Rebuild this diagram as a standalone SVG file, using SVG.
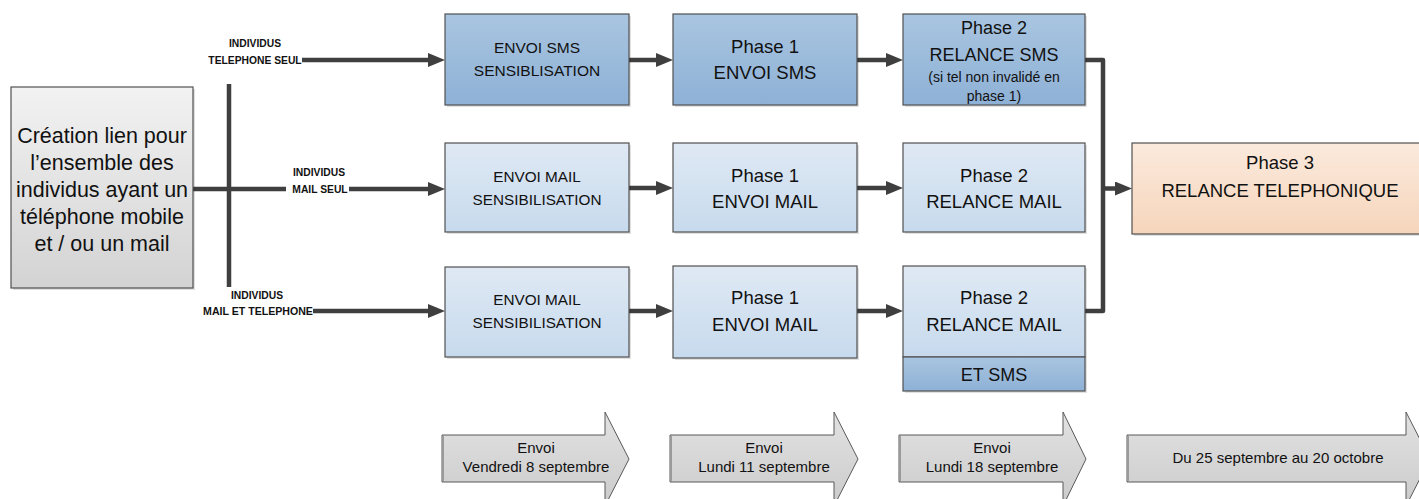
<svg xmlns="http://www.w3.org/2000/svg" width="1419" height="499" viewBox="0 0 1419 499">
<defs>
<linearGradient id="gDark" x1="0" y1="0" x2="0" y2="1"><stop offset="0" stop-color="#a9c5e0"/><stop offset="1" stop-color="#8eb1d6"/></linearGradient>
<linearGradient id="gLight" x1="0" y1="0" x2="0" y2="1"><stop offset="0" stop-color="#dfe9f4"/><stop offset="1" stop-color="#c7daed"/></linearGradient>
<linearGradient id="gPeach" x1="0" y1="0" x2="0" y2="1"><stop offset="0" stop-color="#fbeadd"/><stop offset="1" stop-color="#f6d5bb"/></linearGradient>
<linearGradient id="gGray" x1="0" y1="0" x2="0" y2="1"><stop offset="0" stop-color="#f2f2f2"/><stop offset="1" stop-color="#d3d3d3"/></linearGradient>
<linearGradient id="gArrow" x1="0" y1="0" x2="0" y2="1"><stop offset="0" stop-color="#e2e2e2"/><stop offset="1" stop-color="#cbcbcb"/></linearGradient>
<marker id="ah" markerUnits="userSpaceOnUse" markerWidth="18" markerHeight="16" refX="7" refY="7" orient="auto"><path d="M0,0 L17,7 L0,14 z" fill="#3f3f3f"/></marker>
<style>
.box{stroke:#505050;stroke-width:1.2}
.sh{fill:#000;opacity:0.12}
.dark{fill:url(#gDark)}
.light{fill:url(#gLight)}
.t{font-family:"Liberation Sans",Arial,sans-serif;fill:#111;text-anchor:middle}
.lbl{font-family:"Liberation Sans",Arial,sans-serif;font-weight:bold;font-size:10.3px;fill:#111;text-anchor:middle}
.c{fill:none;stroke:#3f3f3f;stroke-width:4.5;stroke-linejoin:round}
.arr{fill:url(#gArrow);stroke:#595959;stroke-width:1}
</style>
</defs>
<rect width="1419" height="499" fill="#ffffff"/>

<g id="connectors">
<line class="c" x1="229" y1="84" x2="229" y2="287"/>
<line class="c" x1="302" y1="60" x2="435" y2="60" marker-end="url(#ah)"/>
<line class="c" x1="193" y1="189" x2="286" y2="189"/>
<line class="c" x1="349" y1="189" x2="435" y2="189" marker-end="url(#ah)"/>
<line class="c" x1="313" y1="311" x2="435" y2="311" marker-end="url(#ah)"/>
<line class="c" x1="629" y1="60" x2="663" y2="60" marker-end="url(#ah)"/>
<line class="c" x1="857" y1="60" x2="893" y2="60" marker-end="url(#ah)"/>
<line class="c" x1="629" y1="188" x2="663" y2="188" marker-end="url(#ah)"/>
<line class="c" x1="857" y1="188" x2="893" y2="188" marker-end="url(#ah)"/>
<line class="c" x1="629" y1="311" x2="663" y2="311" marker-end="url(#ah)"/>
<line class="c" x1="857" y1="311" x2="893" y2="311" marker-end="url(#ah)"/>
<path class="c" d="M1085,60 H1103 V311 H1085"/>
<line class="c" x1="1103" y1="188.5" x2="1122" y2="188.5" marker-end="url(#ah)"/>
</g>

<g id="labels">
<text class="lbl" x="255" y="47">INDIVIDUS</text>
<text class="lbl" x="255" y="64">TELEPHONE SEUL</text>
<text class="lbl" x="319" y="176">INDIVIDUS</text>
<text class="lbl" x="320" y="193">MAIL SEUL</text>
<text class="lbl" x="257" y="299">INDIVIDUS</text>
<text class="lbl" x="258" y="315" style="font-size:10.6px">MAIL ET TELEPHONE</text>
</g>

<g id="node-creation">
<rect class="sh" x="13" y="89" width="182" height="201"/>
<rect class="box" x="11" y="87" width="182" height="201" fill="url(#gGray)"/>
<text class="t" style="font-size:21.5px" x="102" y="143">Création lien pour</text>
<text class="t" style="font-size:21.5px" x="102" y="170">l’ensemble des</text>
<text class="t" style="font-size:21.5px" x="102" y="197">individus ayant un</text>
<text class="t" style="font-size:21.5px" x="102" y="224">téléphone mobile</text>
<text class="t" style="font-size:21.5px" x="102" y="251">et / ou un mail</text>
</g>

<g id="node-sms-sensib">
<rect class="sh" x="447" y="16" width="184" height="91"/>
<rect class="box dark" x="445" y="14" width="184" height="91"/>
<text class="t" style="font-size:15.5px" x="537" y="53">ENVOI SMS</text>
<text class="t" style="font-size:15.5px" x="537" y="76">SENSIBLISATION</text>
</g>
<g id="node-p1-sms">
<rect class="sh" x="675" y="16" width="184" height="91"/>
<rect class="box dark" x="673" y="14" width="184" height="91"/>
<text class="t" style="font-size:18.5px" x="765" y="53">Phase 1</text>
<text class="t" style="font-size:18.5px" x="765" y="79">ENVOI SMS</text>
</g>
<g id="node-p2-sms">
<rect class="sh" x="905" y="16" width="182" height="91"/>
<rect class="box dark" x="903" y="14" width="182" height="91"/>
<text class="t" style="font-size:18px" x="994" y="34">Phase 2</text>
<text class="t" style="font-size:18px" x="994" y="61">RELANCE SMS</text>
<text class="t" style="font-size:14px" x="994" y="82">(si tel non invalidé en</text>
<text class="t" style="font-size:14px" x="994" y="101">phase 1)</text>
</g>

<g id="node-mail-sensib">
<rect class="sh" x="447" y="145" width="184" height="89"/>
<rect class="box light" x="445" y="143" width="184" height="89"/>
<text class="t" style="font-size:15.3px" x="537" y="182">ENVOI MAIL</text>
<text class="t" style="font-size:15.3px" x="537" y="205">SENSIBILISATION</text>
</g>
<g id="node-p1-mail">
<rect class="sh" x="675" y="145" width="184" height="89"/>
<rect class="box light" x="673" y="143" width="184" height="89"/>
<text class="t" style="font-size:18.5px" x="765" y="182">Phase 1</text>
<text class="t" style="font-size:18.5px" x="765" y="208">ENVOI MAIL</text>
</g>
<g id="node-p2-mail">
<rect class="sh" x="905" y="145" width="182" height="89"/>
<rect class="box light" x="903" y="143" width="182" height="89"/>
<text class="t" style="font-size:18.5px" x="994" y="182">Phase 2</text>
<text class="t" style="font-size:18.5px" x="994" y="208">RELANCE MAIL</text>
</g>

<g id="node-mail-tel-sensib">
<rect class="sh" x="447" y="269" width="184" height="90"/>
<rect class="box light" x="445" y="267" width="184" height="90"/>
<text class="t" style="font-size:15.3px" x="537" y="305">ENVOI MAIL</text>
<text class="t" style="font-size:15.3px" x="537" y="328">SENSIBILISATION</text>
</g>
<g id="node-p1-mail-tel">
<rect class="sh" x="675" y="268" width="184" height="92"/>
<rect class="box light" x="673" y="266" width="184" height="92"/>
<text class="t" style="font-size:18.5px" x="765" y="304">Phase 1</text>
<text class="t" style="font-size:18.5px" x="765" y="331">ENVOI MAIL</text>
</g>
<g id="node-p2-mail-sms">
<rect class="sh" x="905" y="268" width="182" height="125"/>
<rect class="box light" x="903" y="266" width="182" height="91"/>
<rect class="box dark" x="903" y="357" width="182" height="34"/>
<text class="t" style="font-size:18.5px" x="994" y="304">Phase 2</text>
<text class="t" style="font-size:18.5px" x="994" y="331">RELANCE MAIL</text>
<text class="t" style="font-size:18px" x="994" y="381">ET SMS</text>
</g>

<g id="node-p3">
<rect class="sh" x="1134" y="145" width="300" height="91"/>
<rect class="box" x="1132" y="143" width="300" height="91" fill="url(#gPeach)"/>
<text class="t" style="font-size:18.5px" x="1280" y="169">Phase 3</text>
<text class="t" style="font-size:18.5px" x="1280" y="197">RELANCE TELEPHONIQUE</text>
</g>

<g id="timeline">
<g id="t1">
<path class="arr" d="M442,435 H605 V412 L629,459 L605,506 V482 H442 Z"/>
<line x1="443" y1="436" x2="443" y2="481" stroke="#9a9a9a" stroke-width="2"/>
<text class="t" style="font-size:15px" x="536" y="453">Envoi</text>
<text class="t" style="font-size:15px" x="536" y="472">Vendredi 8 septembre</text>
</g>
<g id="t2">
<path class="arr" d="M670,435 H834 V412 L858,459 L834,506 V482 H670 Z"/>
<line x1="671" y1="436" x2="671" y2="481" stroke="#9a9a9a" stroke-width="2"/>
<text class="t" style="font-size:15px" x="764" y="453">Envoi</text>
<text class="t" style="font-size:15px" x="764" y="472">Lundi 11 septembre</text>
</g>
<g id="t3">
<path class="arr" d="M899,435 H1063 V412 L1086,459 L1063,506 V482 H899 Z"/>
<line x1="900" y1="436" x2="900" y2="481" stroke="#9a9a9a" stroke-width="2"/>
<text class="t" style="font-size:15px" x="992" y="453">Envoi</text>
<text class="t" style="font-size:15px" x="992" y="472">Lundi 18 septembre</text>
</g>
<g id="t4">
<path class="arr" d="M1127,435 H1406 V412 L1430,459 L1406,506 V482 H1127 Z"/>
<line x1="1128" y1="436" x2="1128" y2="481" stroke="#9a9a9a" stroke-width="2"/>
<text class="t" style="font-size:15px" x="1278" y="463">Du 25 septembre au 20 octobre</text>
</g>
</g>
</svg>
